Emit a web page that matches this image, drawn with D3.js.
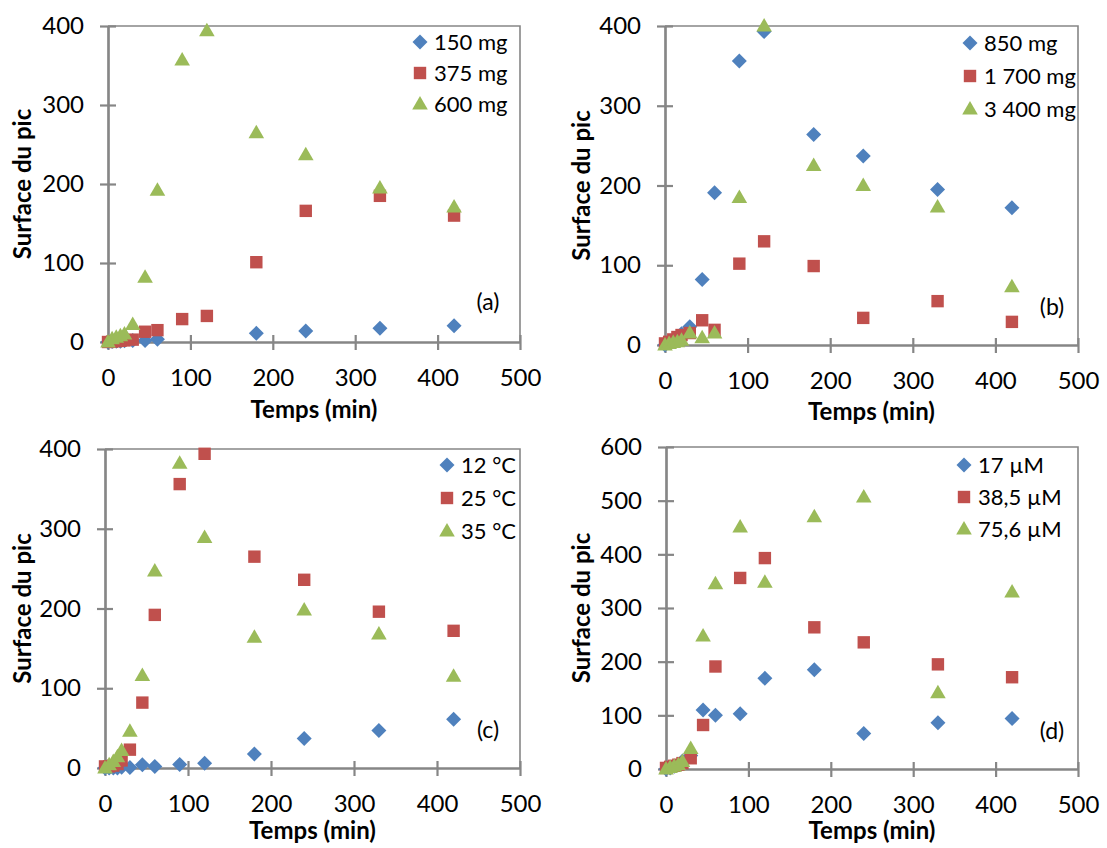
<!DOCTYPE html>
<html><head><meta charset="utf-8">
<script src="https://cdn.jsdelivr.net/npm/d3@7"></script>
<style>
body{margin:0;background:#fff}
svg{display:block}
text{font-family:Lato,"Open Sans",sans-serif;fill:#000}
</style>
</head><body>
<svg id="c" width="1107" height="848"></svg>
<script>
// ---------- DATA ----------
const times = [0,5,10,15,20,30,45,60,90,120,180,240,330,420];
const xTicks = [0,100,200,300,400,500];
const yTicks400 = [0,100,200,300,400];
const yTicks600 = [0,100,200,300,400,500,600];

const labelsA = ["150 mg","375 mg","600 mg"];
const a150 = [0,0.5,1,1,1.5,2,2,3.5,null,null,11,14,17.5,20.5];
const a375 = [0,0.5,1,1.5,2,3,13,15,29,33,101,166,185,160];
const a600 = [0,4,6,8,10,22,82,192,357,394,265,237,195,171];

const labelsB = ["850 mg","1 700 mg","3 400 mg"];
const b850 = [0,3,6,10,14,23,82,191,356,393,264,237,195,172];
const b1700 = [2,4,7,10,12.5,15,31,19,102,130,99,34,55,29];
const b3400 = [0,2,3,4,6,15,9,15,185,400,225,200,173,73];

const labelsC = ["12 °C","25 °C","35 °C"];
const c12 = [0,0,0,0,1,0.5,4,2,4.5,6,17.5,37,47,61];
const c25 = [2,2,3,5,9.5,23,82,192,356,394,265,236,196,172];
const c35 = [0,4,8,14,22,46,116,247,382,289,164,198,168,115];

const labelsD = ["17 µM","38,5 µM","75,6 µM"];
const d17 = [0,2,5,8,15,25,110,100,103,169,185,66,86,94];
const d385 = [2,4,6,8,11,20,82,191,356,393,264,236,195,171];
const d756 = [0,3,5,8,14,38,248,345,451,348,470,507,142,330];

const panelLetters = ["(a)","(b)","(c)","(d)"];
const xTitle = "Temps (min)";
const yTitle = "Surface du pic";

// ---------- STYLE / LAYOUT ----------
const colors = ["#4F81BD","#C0504D","#9BBB59"];
const shapes = ["diamond","square","triangle"];
const axisColor = "#868686";

const layouts = [
  {x0:108,x1:520,y0:26,y1:342,yTitleX:23,xTitleY:410,legX:420,legY:42,legDy:31,tagX:488,tagY:302},
  {x0:665,x1:1078,y0:26,y1:345,yTitleX:582,xTitleY:412,legX:970,legY:43,legDy:33,tagX:1052,tagY:307},
  {x0:105,x1:520,y0:449,y1:768,yTitleX:23,xTitleY:831,legX:447,legY:465,legDy:33,tagX:488,tagY:730},
  {x0:666,x1:1078,y0:447,y1:769,yTitleX:582,xTitleY:831,legX:964,legY:465,legDy:32,tagX:1052,tagY:731}
];

const panels = [
  {labels:labelsA, series:[a150,a375,a600], yMax:400, yTicks:yTicks400},
  {labels:labelsB, series:[b850,b1700,b3400], yMax:400, yTicks:yTicks400},
  {labels:labelsC, series:[c12,c25,c35], yMax:400, yTicks:yTicks400},
  {labels:labelsD, series:[d17,d385,d756], yMax:600, yTicks:yTicks600}
];

function shapePath(type){
  if(type==="diamond") return "M0,-7.5L7.5,0L0,7.5L-7.5,0Z";
  if(type==="square") return "M-6.2,-6.2H6.2V6.2H-6.2Z";
  return "M0,-8L7.8,5.5L-7.8,5.5Z";
}

const svg = d3.select("#c");

panels.forEach((p,i)=>{
  const L = layouts[i];
  const x = d3.scaleLinear().domain([0,500]).range([L.x0,L.x1]);
  const y = d3.scaleLinear().domain([0,p.yMax]).range([L.y1,L.y0]);
  const g = svg.append("g");

  // plot box (top & right)
  g.append("path")
    .attr("d",`M${L.x0},${L.y0}H${L.x1}V${L.y1}`)
    .attr("fill","none").attr("stroke",axisColor).attr("stroke-width",1.6);

  // x axis (cross ticks)
  const xb = g.append("g").attr("transform",`translate(0,${L.y1})`)
    .call(d3.axisBottom(x).tickValues(xTicks).tickSize(8).tickPadding(19).tickSizeOuter(0));
  const xt = g.append("g").attr("transform",`translate(0,${L.y1})`)
    .call(d3.axisTop(x).tickValues(xTicks).tickSize(7).tickFormat("").tickSizeOuter(0));
  // y axis (cross ticks)
  const yl = g.append("g").attr("transform",`translate(${L.x0},0)`)
    .call(d3.axisLeft(y).tickValues(p.yTicks).tickSize(8).tickPadding(16).tickSizeOuter(0));
  const yr = g.append("g").attr("transform",`translate(${L.x0},0)`)
    .call(d3.axisRight(y).tickValues(p.yTicks).tickSize(8).tickFormat("").tickSizeOuter(0));
  [xb,xt,yl,yr].forEach(a=>{
    a.select(".domain").attr("stroke",axisColor).attr("stroke-width",2.2);
    a.selectAll(".tick line").attr("stroke",axisColor).attr("stroke-width",2.2);
    a.selectAll(".tick text").style("font-family","Lato").style("font-size","24px").attr("fill","#000");
  });

  // axis titles
  g.append("text").attr("x",(L.x0+L.x1)/2).attr("y",L.xTitleY).attr("dy","0.35em")
    .attr("text-anchor","middle").style("font-weight","bold").style("font-size","24px")
    .text(xTitle);
  g.append("text").attr("transform",`translate(${L.yTitleX},${(L.y0+L.y1)/2}) rotate(-90)`)
    .attr("text-anchor","middle").attr("dy","0.35em")
    .style("font-weight","bold").style("font-size","24px")
    .text(yTitle);

  // series
  p.series.forEach((vals,si)=>{
    const pts = times.map((t,k)=>({t,v:vals[k]})).filter(d=>d.v!==null);
    g.append("g").selectAll("path").data(pts).join("path")
      .attr("d",shapePath(shapes[si]))
      .attr("transform",d=>`translate(${x(d.t)},${y(d.v)})`)
      .attr("fill",colors[si]);
  });

  // legend
  p.labels.forEach((lab,si)=>{
    const yy = L.legY + si*L.legDy;
    g.append("path").attr("d",shapePath(shapes[si]))
      .attr("transform",`translate(${L.legX},${yy})`).attr("fill",colors[si]);
    g.append("text").attr("x",L.legX+14).attr("y",yy).attr("dy","0.36em")
      .style("font-size","22px").text(lab);
  });

  // panel tag
  g.append("text").attr("x",L.tagX).attr("y",L.tagY).attr("text-anchor","middle")
    .attr("dy","0.36em").style("font-size","23px").text(panelLetters[i]);
});
</script>
</body></html>
